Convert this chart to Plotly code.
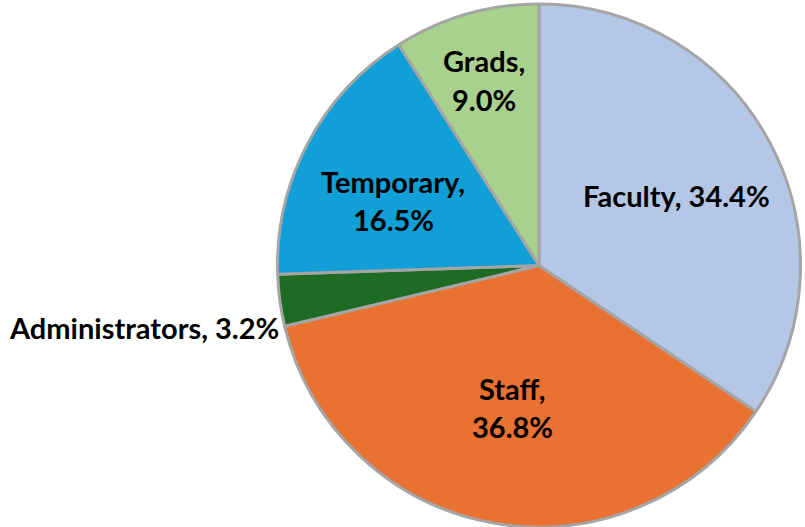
import plotly.graph_objects as go

categories = ["Faculty", "Staff", "Administrators", "Temporary", "Grads"]
values = [34.4, 36.8, 3.2, 16.5, 9.0]
colors = ["#B4C7E7", "#E97132", "#1E6B24", "#109FD6", "#A9D18E"]

W, H = 805, 527
# label layout: (center x px, first-line y px, split into two lines?)
label_pos = {
    "Faculty": (676, 196, False),
    "Staff": (512, 388, True),
    "Administrators": (144, 327, False),
    "Temporary": (393, 181, True),
    "Grads": (484, 61, True),
}
FS = 29
LINE_GAP = 38.5

fig = go.Figure(go.Pie(
    labels=categories,
    values=values,
    sort=False,
    direction="clockwise",
    rotation=0,
    marker=dict(colors=colors, line=dict(color="#A5A5A5", width=3)),
    textinfo="none",
    hoverinfo="label+percent",
    domain=dict(x=[(539 - 261.5) / W, (539 + 261.5) / W], y=[0, 1 - 4 / H]),
    showlegend=False,
))

annotations = []
for cat, val in zip(categories, values):
    x, y, two = label_pos[cat]
    lines = [f"{cat},", f"{val:.1f}%"] if two else [f"{cat}, {val:.1f}%"]
    for i, t in enumerate(lines):
        annotations.append(dict(
            x=x / W, y=1 - (y + i * LINE_GAP) / H, xref="paper", yref="paper",
            text=f"<b>{t}</b>", showarrow=False, xanchor="center", yanchor="middle",
            font=dict(family="Lato", size=FS, color="#000000"),
        ))

fig.update_layout(
    width=W, height=H,
    margin=dict(l=0, r=0, t=0, b=0),
    paper_bgcolor="white", plot_bgcolor="white",
    annotations=annotations,
)
fig.write_html("out.html", config={"displayModeBar": False},
               post_script="document.body.style.margin='0px';")
